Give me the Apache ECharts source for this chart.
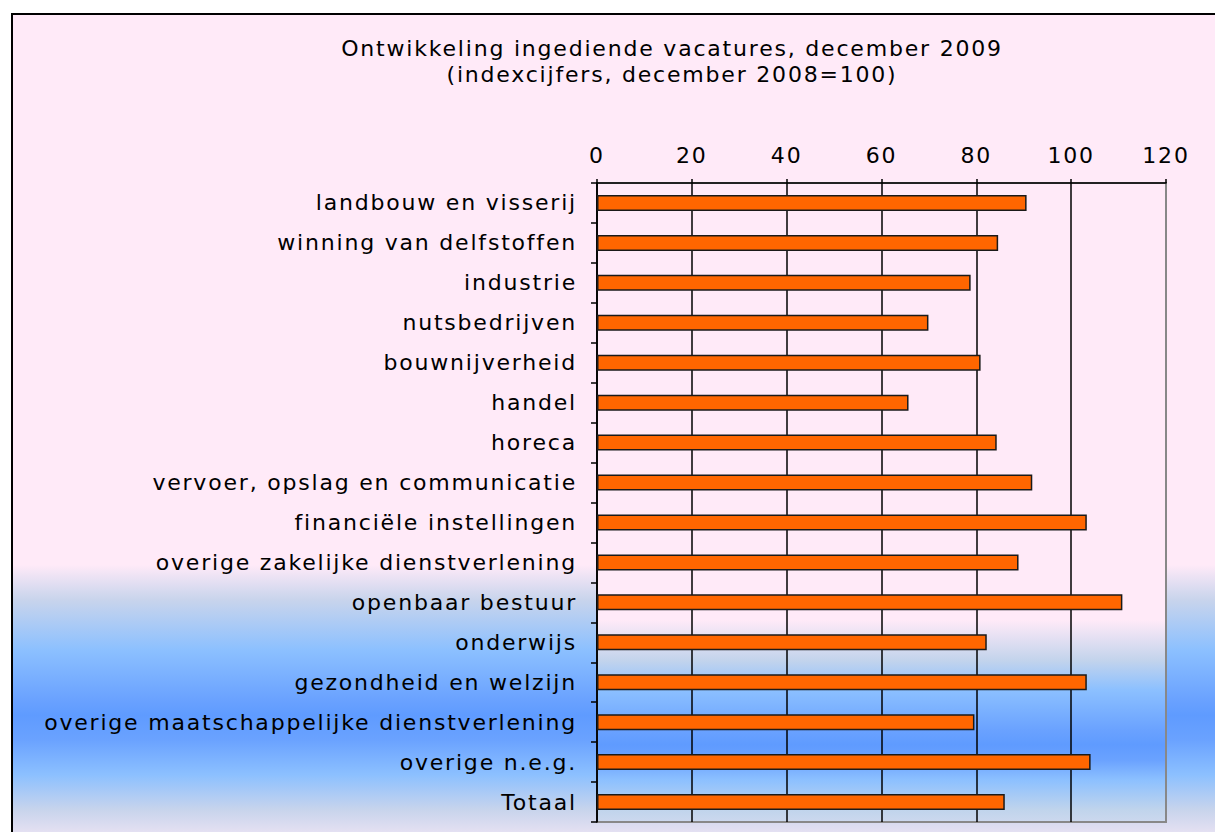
<!DOCTYPE html>
<html>
<head>
<meta charset="utf-8">
<script src="https://cdn.jsdelivr.net/npm/echarts@6/dist/echarts.min.js"></script>
<style>
    html, body { margin: 0; padding: 0; background: #fff; overflow: hidden; }
    #frame {
        position: absolute; left: 11px; top: 13px;
        border-left: 2px solid #000; border-top: 2px solid #000;
        width: 1202px; height: 817px;
    }
    #chart { width: 1202px; height: 817px; }
    /* the original lettering is wide, spread it a bit */
    #chart text { letter-spacing: 1.8px; }
</style>
</head>
<body>
<div id="frame"><div id="chart"></div></div>
<script>
const sectors = [
    'landbouw en visserij',
    'winning van delfstoffen',
    'industrie',
    'nutsbedrijven',
    'bouwnijverheid',
    'handel',
    'horeca',
    'vervoer, opslag en communicatie',
    'financiële instellingen',
    'overige zakelijke dienstverlening',
    'openbaar bestuur',
    'onderwijs',
    'gezondheid en welzijn',
    'overige maatschappelijke dienstverlening',
    'overige n.e.g.',
    'Totaal'
];
const indexValues = [90.6, 84.6, 78.8, 69.9, 80.9, 65.7, 84.3, 91.8, 103.3, 88.9, 110.8, 82.2, 103.3, 79.6, 104.1, 86.0];

const titleLines = ['Ontwikkeling ingediende vacatures, december 2009', '(indexcijfers, december 2008=100)'];

const fontName = '"DejaVu Sans", Verdana, sans-serif';
const pink = '#FFEAF8';

function band(stops) {
    return new echarts.graphic.LinearGradient(0, 0, 0, 1, stops.map(s => ({ offset: s[0], color: s[1] })));
}

const chart = echarts.init(document.getElementById('chart'), null, { renderer: 'svg' });

chart.setOption({
    animation: false,
    backgroundColor: band([
        [0, pink], [0.673, pink], [0.716, '#C8D4EC'], [0.777, '#8CC0FF'],
        [0.838, '#6AA2FF'], [0.857, '#5F9BFF'], [0.887, '#6AA2FF'],
        [0.930, '#8CC0FF'], [0.973, '#C8D4EC'], [1, '#E4E0F2']
    ]),
    title: {
        text: titleLines.join('\n'),
        left: 654,
        top: 15,
        textAlign: 'center',
        textStyle: { fontFamily: fontName, fontSize: 22, fontWeight: 'normal', color: '#000', lineHeight: 26 }
    },
    grid: {
        left: 584, right: 49, top: 168, bottom: 10,
        show: true,
        borderColor: '#888',
        borderWidth: 2,
        backgroundColor: band([
            [0, pink], [0.684, pink], [0.746, '#C4D4EC'], [0.793, '#8CC0FF'],
            [0.856, '#6AA2FF'], [0.879, '#5F9BFF'], [0.903, '#6AA2FF'],
            [0.934, '#8CC0FF'], [0.981, '#C0D4EC'], [1, '#CCD8EE']
        ])
    },
    xAxis: {
        type: 'value',
        position: 'top',
        min: 0, max: 120, interval: 20,
        axisLine: { show: true, lineStyle: { color: '#000', width: 1.5 } },
        axisTick: { show: true, length: 4, lineStyle: { color: '#000', width: 1.5 } },
        axisLabel: { margin: 17, fontFamily: fontName, fontSize: 22, color: '#000' },
        splitLine: { show: true, showMaxLine: false, lineStyle: { color: '#000', width: 1.5 } }
    },
    yAxis: {
        type: 'category',
        inverse: true,
        data: sectors,
        axisLine: { show: true, lineStyle: { color: '#000', width: 1.5 } },
        axisTick: { show: true, length: 6, lineStyle: { color: '#000', width: 1.5 } },
        axisLabel: { margin: 20, fontFamily: fontName, fontSize: 22, color: '#000' },
        splitLine: { show: false }
    },
    series: [
        {
            type: 'bar',
            data: indexValues,
            barWidth: 16,
            itemStyle: { color: '#FF6600', borderColor: '#1a1a1a', borderWidth: 1.5 }
        }
    ]
});
</script>
</body>
</html>
